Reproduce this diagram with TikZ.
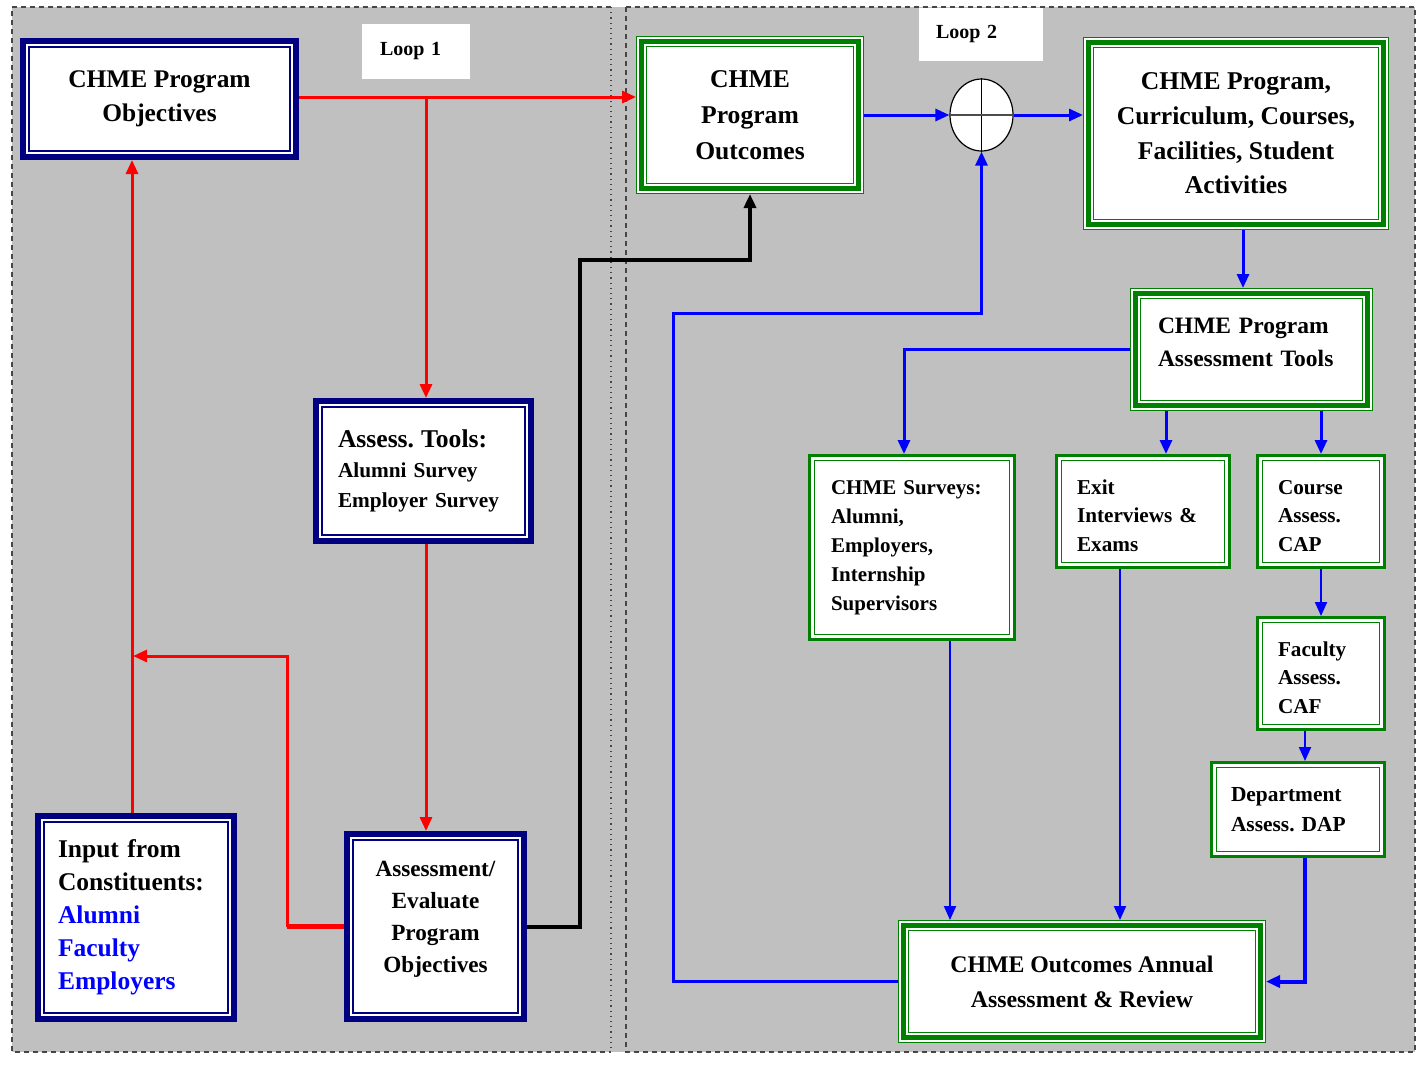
\documentclass[tikz,border=0pt]{standalone}
\usepackage{fontspec}
\setmainfont{Liberation Serif}
\usetikzlibrary{arrows.meta,calc,shapes.geometric}
\definecolor{navyb}{RGB}{0,0,128}
\definecolor{dgreen}{RGB}{0,128,0}
\definecolor{bggray}{RGB}{192,192,192}
\definecolor{bordgray}{RGB}{70,70,70}
\def\upx{*0.5pt}
\frenchspacing
\tikzset{
  base/.style={inner sep=0pt, fill=white, text=black},
  bbox/.style={base, draw=navyb, line width=3pt,
    path picture={\draw[navyb,line width=0.6pt]
      ($(path picture bounding box.north west)+(3pt,-3pt)$) rectangle
      ($(path picture bounding box.south east)+(-3pt,3pt)$);}},
  gbox/.style={base, draw=dgreen, line width=0.5pt,
    path picture={\draw[dgreen,line width=2.5pt]
      ($(path picture bounding box.north west)+(2.5pt,-2.5pt)$) rectangle
      ($(path picture bounding box.south east)+(-2.5pt,2.5pt)$);
      \draw[dgreen,line width=0.5pt]
      ($(path picture bounding box.north west)+(5pt,-5pt)$) rectangle
      ($(path picture bounding box.south east)+(-5pt,5pt)$);}},
  gsbox/.style={base, draw=dgreen, line width=1.5pt,
    path picture={\draw[dgreen,line width=0.6pt]
      ($(path picture bounding box.north west)+(2.5pt,-2.5pt)$) rectangle
      ($(path picture bounding box.south east)+(-2.5pt,2.5pt)$);}},
  loopbox/.style={inner sep=0pt, fill=white, align=left,
    font=\bfseries\fontsize{10}{12}\selectfont},
  arr/.style={-{Triangle[length=7pt,width=6pt]}},
  redln/.style={draw={rgb,255:red,255;green,0;blue,0}, line width=1.5pt},
  bluln/.style={draw={rgb,255:red,0;green,0;blue,255}, line width=1.5pt},
  bluthin/.style={draw={rgb,255:red,0;green,0;blue,255}, line width=1pt},
  panelb/.style={draw=bordgray, line width=0.75pt, dash pattern=on 2.5pt off 2pt},
}
\begin{document}
\begin{tikzpicture}[x=0.5pt,y=-0.5pt]
\useasboundingbox (0,0) rectangle (1424,1067);
\fill[white] (0,0) rectangle (1424,1067);
\fill[bggray] (12,7) rectangle (1415,1052);
% panels
\draw[panelb] (611,7) -- (12,7) -- (12,1052) -- (611,1052);
\draw[draw=bordgray, line width=0.6pt, dotted] (611,7) -- (611,1052);
\draw[panelb] (626,7) rectangle (1415,1052);

% loop labels
\node[loopbox, minimum width=108\upx, minimum height=55\upx, text width=72\upx] (loop1) at (416,51.5) {Loop 1};
\node[loopbox, minimum width=124\upx, minimum height=53\upx, text width=90\upx] (loop2) at (981,34.5) {Loop 2};

% blue boxes
\node[bbox, minimum width=273\upx, minimum height=116\upx, align=center,
  font=\bfseries\fontsize{12.7}{17}\selectfont] (obj) at (159.5,99)
  {CHME Program\\Objectives};
\node[bbox, minimum width=215\upx, minimum height=140\upx, align=left, text width=171\upx,
  font=\bfseries\fontsize{10.65}{15}\selectfont] (tools) at (423.5,471)
  {{\fontsize{12.8}{15}\selectfont Assess. Tools:}\\Alumni Survey\\Employer Survey};
\node[bbox, minimum width=196\upx, minimum height=203\upx, align=left, text width=156\upx,
  font=\bfseries\fontsize{12.75}{16.5}\selectfont] (input) at (136,917.5)
  {Input from\\Constituents:\\\textcolor{blue}{Alumni}\\\textcolor{blue}{Faculty}\\\textcolor{blue}{Employers}};
\node[bbox, minimum width=177\upx, minimum height=185\upx, align=center,
  font=\bfseries\fontsize{11.6}{16}\selectfont] (evalobj) at (435.5,926.5)
  {Assessment/\\Evaluate\\Program\\Objectives\rule[-10pt]{0pt}{1pt}};

% green boxes
\node[gbox, minimum width=227\upx, minimum height=157\upx, align=center,
  font=\bfseries\fontsize{12.8}{18}\selectfont] (outc) at (750,115)
  {CHME\\Program\\Outcomes};
\node[gbox, minimum width=305\upx, minimum height=192\upx, align=center,
  font=\bfseries\fontsize{12.8}{17.3}\selectfont] (curr) at (1236,133.5)
  {CHME Program,\\Curriculum, Courses,\\Facilities, Student\\Activities};
\node[gbox, minimum width=242\upx, minimum height=122\upx, align=left, text width=187\upx,
  font=\bfseries\fontsize{11.75}{16.5}\selectfont] (atools) at (1251.5,349.5)
  {CHME Program\\Assessment Tools\rule[-7pt]{0pt}{1pt}};
\node[gbox, minimum width=367\upx, minimum height=122\upx, align=center,
  font=\bfseries\fontsize{11.9}{17.5}\selectfont] (annual) at (1082,981.5)
  {CHME Outcomes Annual\\Assessment \& Review};

\node[gsbox, minimum width=205\upx, minimum height=184\upx, align=left, text width=162\upx,
  font=\bfseries\fontsize{10.5}{14.5}\selectfont] (surveys) at (912,547.5)
  {CHME Surveys:\\Alumni,\\Employers,\\Internship\\Supervisors};
\node[gsbox, minimum width=173\upx, minimum height=112\upx, align=left, text width=132\upx,
  font=\bfseries\fontsize{10.6}{14.3}\selectfont] (exit) at (1143,511.5)
  {\rule{0pt}{11.5pt}Exit\\Interviews \&\\Exams};
\node[gsbox, minimum width=127\upx, minimum height=112\upx, align=left, text width=86\upx,
  font=\bfseries\fontsize{10.6}{14.3}\selectfont] (course) at (1321,511.5)
  {\rule{0pt}{11.5pt}Course\\Assess.\\CAP};
\node[gsbox, minimum width=127\upx, minimum height=112\upx, align=left, text width=86\upx,
  font=\bfseries\fontsize{10.6}{14.3}\selectfont] (faculty) at (1321,673.5)
  {\rule{0pt}{11.5pt}Faculty\\Assess.\\CAF};
\node[gsbox, minimum width=173\upx, minimum height=94\upx, align=left, text width=134\upx,
  font=\bfseries\fontsize{10.7}{15}\selectfont] (dept) at (1298,809.5)
  {Department\\Assess. DAP};

% summing junction
\node[ellipse, draw=black, fill=white, line width=0.6pt, inner sep=0pt,
  minimum width=63\upx, minimum height=72\upx] (sum) at (981.5,115) {};
\draw[black, line width=0.6pt] (sum.north) -- (sum.south);
\draw[gray!60!black, line width=0.6pt] (sum.west) -- (sum.east);

% helper coordinates
\coordinate (y97) at (0,97);
\coordinate (x426) at (426,0);
\coordinate (x132) at (132,0);
\coordinate (r2) at (287,926.5);
\coordinate (r3) at (287,656);
\coordinate (r4) at (133,656);
\coordinate (k1) at (580,260);
\coordinate (x1243) at (1243,0);
\coordinate (x904) at (904,0);
\coordinate (x1166) at (1166,0);
\coordinate (x1305) at (1305,0);
\coordinate (x950) at (950,0);
\coordinate (x1120) at (1120,0);
\coordinate (b1) at (673,313);
\coordinate (jr) at (426,97);

% red loop 1
\draw[redln, arr] (obj.east |- y97) -- (outc.west |- y97);
\draw[redln, arr] (jr) -- (tools.north -| x426);
\draw[redln, arr] (tools.south -| x426) -- (evalobj.north -| x426);
\draw[redln, line width=2.5pt] (evalobj.west) -- (r2);
\draw[redln, arr] (r2) -- (r3) -- (r4);
\draw[redln, arr] (input.north -| x132) -- (obj.south -| x132);

% black
\draw[black, line width=2pt, arr] (evalobj.east) -| (k1) -| (outc.south);

% blue loop 2
\draw[bluln, arr] (outc.east) -- (sum.west);
\draw[bluln, arr] (sum.east) -- (curr.west |- sum.east);
\draw[bluln, arr] (curr.south -| x1243) -- (atools.north -| x1243);
\draw[bluln, arr] (atools.west) -| (surveys.north -| x904);
\draw[bluln, arr] (atools.south -| x1166) -- (exit.north -| x1166);
\draw[bluln, arr] (atools.south -| course.north) -- (course.north);
\draw[bluthin, arr] (course.south) -- (faculty.north);
\draw[bluthin, arr] (faculty.south -| x1305) -- (dept.north -| x1305);
\draw[bluln, line width=2pt, arr] (dept.south -| x1305) |- (annual.east);
\draw[bluthin, arr] (surveys.south -| x950) -- (annual.north -| x950);
\draw[bluthin, arr] (exit.south -| x1120) -- (annual.north -| x1120);
\draw[bluln, arr] (annual.west) -| (b1) -| (sum.south);
\end{tikzpicture}
\end{document}
